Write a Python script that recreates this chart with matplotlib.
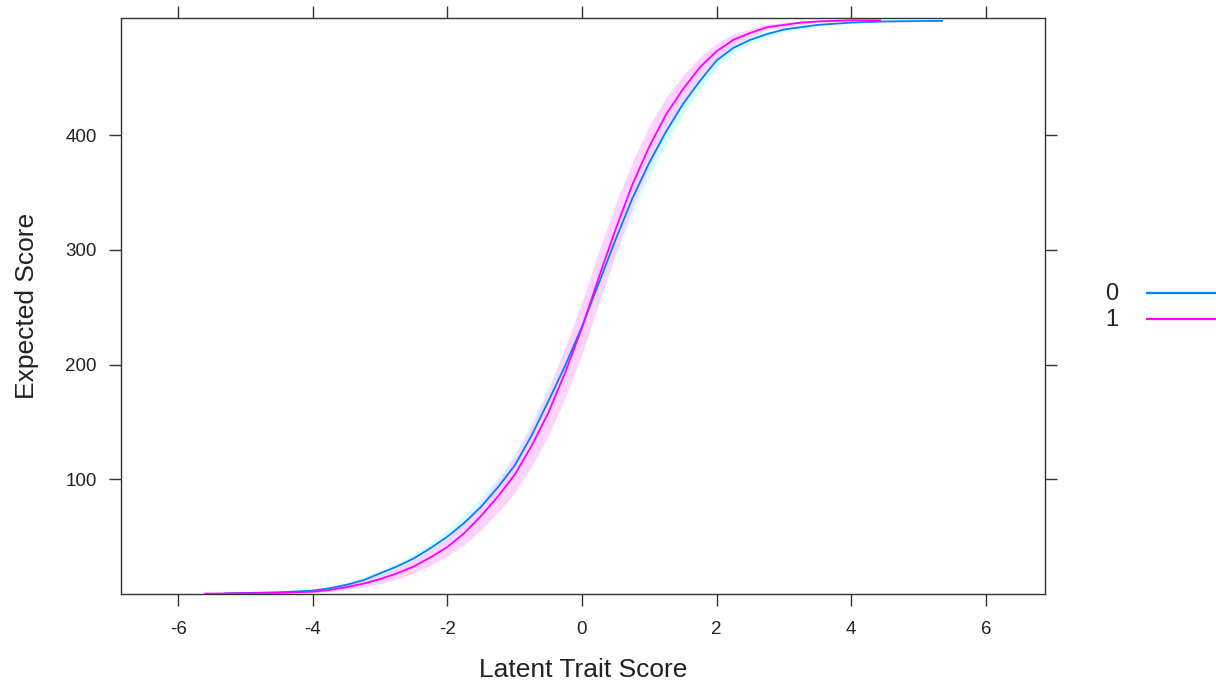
import matplotlib
matplotlib.use("Agg")
import matplotlib.pyplot as plt
from matplotlib.lines import Line2D
import numpy as np

# ---- data ----
groups = ["0", "1"]
line_colors = ["#0080ff", "#ff00ff"]
band_colors = ["#ccffff", "#ffccff"]

theta_0 = [-5.3, -4.5, -4.0, -3.75, -3.5, -3.25, -3.0, -2.75, -2.5, -2.25, -2.0,
           -1.75, -1.5, -1.25, -1.0, -0.75, -0.5, -0.25, 0.0, 0.25, 0.5, 0.75,
           1.0, 1.25, 1.5, 1.75, 2.0, 2.25, 2.5, 2.75, 3.0, 3.25, 3.5, 4.0, 4.5, 5.35]
score_0 = [0.5, 1.5, 3, 5, 8, 12, 18, 24, 31, 40, 50,
           62, 76, 93, 112, 138, 168, 199, 233, 271, 309, 345,
           376, 403, 427, 447, 465, 476, 483, 488, 492, 494, 496, 498, 499, 499.5]
se_0 = [0.2, 0.5, 1, 1.5, 2, 2.5, 3, 3.5, 4, 5, 6,
        7, 8, 9, 10, 12, 13, 14, 15, 15, 14, 13,
        12, 10, 9, 7, 6, 4.5, 3.5, 2.5, 2, 1.5, 1, 0.5, 0.3, 0.2]

theta_1 = [-5.6, -4.5, -4.0, -3.75, -3.5, -3.25, -3.0, -2.75, -2.5, -2.25, -2.0,
           -1.75, -1.5, -1.25, -1.0, -0.75, -0.5, -0.25, 0.0, 0.25, 0.5, 0.75,
           1.0, 1.25, 1.5, 1.75, 2.0, 2.25, 2.5, 2.75, 3.0, 3.25, 3.5, 4.0, 4.43]
score_1 = [0.3, 1, 2, 3.5, 6, 9, 13, 18, 24, 32, 41,
           53, 68, 85, 104, 129, 158, 193, 232, 276, 318, 357,
           390, 418, 440, 459, 473, 483, 489, 494, 496, 498, 499, 500, 500]
se_1 = [0.2, 0.5, 1, 1.5, 2, 3, 4, 5, 6, 7, 8,
        10, 12, 14, 16, 18, 20, 22, 23, 23, 22, 20,
        18, 15, 12, 9, 7, 5, 3.5, 2.5, 2, 1.5, 1, 0.5, 0.3]

thetas = [theta_0, theta_1]
scores = [score_0, score_1]
ses = [se_0, se_1]

x_ticks = [-6, -4, -2, 0, 2, 4, 6]
y_ticks = [100, 200, 300, 400]

# ---- figure ----
W, H = 1216, 681
fig = plt.figure(figsize=(W / 100, H / 100), dpi=100)
ax = fig.add_axes([121 / W, 1 - 594 / H, (1045 - 121) / W, (594 - 18) / H])

font = "Liberation Sans"
txt_col = "#222222"

# bands first
for th, sc, se, bc in zip(thetas, scores, ses, band_colors):
    th = np.asarray(th); sc = np.asarray(sc); se = np.asarray(se)
    ax.fill_between(th, sc - se, sc + se, color=bc, alpha=0.85, lw=0, zorder=1)
# lines
for th, sc, lc in zip(thetas, scores, line_colors):
    ax.plot(th, sc, color=lc, lw=1.3, zorder=3)

ax.set_xlim(-6.85, 6.88)
ax.set_ylim(0, 502)
ax.set_xticks(x_ticks)
ax.set_yticks(y_ticks)
ax.set_xticklabels([str(v) for v in x_ticks], fontname=font, fontsize=13.5, color=txt_col)
ax.set_yticklabels([str(v) for v in y_ticks], fontname=font, fontsize=13.5, color=txt_col)

ax.tick_params(axis="both", which="major", direction="out", length=8.5, width=1.0,
               color="#333333", top=True, right=True, labeltop=False, labelright=False)
ax.tick_params(axis="x", pad=11)
ax.tick_params(axis="y", pad=9)
for sp in ax.spines.values():
    sp.set_color("#333333")
    sp.set_linewidth(1.0)

ax.set_xlabel("Latent Trait Score", fontname=font, fontsize=19, color=txt_col, labelpad=14)
ax.set_ylabel("Expected Score", fontname=font, fontsize=19, color=txt_col, labelpad=19)

# legend (text then line), placed manually
leg_y = [294, 320]
for g, lc, yy in zip(groups, line_colors, leg_y):
    fig.text(1118 / W, 1 - yy / H, g, ha="right", va="center", fontname=font,
             fontsize=17, color=txt_col)
    fig.add_artist(Line2D([1147 / W, 1.0], [1 - (yy - 1) / H] * 2, color=lc, lw=1.6,
                          transform=fig.transFigure))

fig.savefig("out.png", dpi=100, facecolor="white")
